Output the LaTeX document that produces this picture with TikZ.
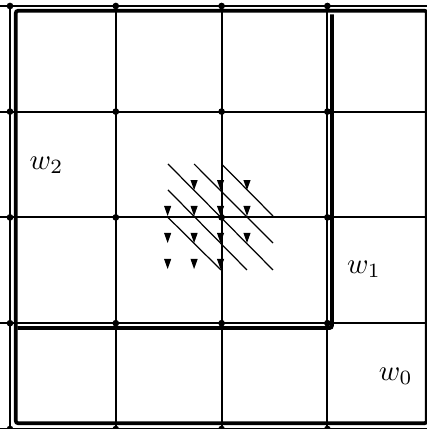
\documentclass[tikz,border=0pt]{standalone}
\usetikzlibrary{arrows.meta}

\tikzset{
    gridline/.style={line width=0.57pt},
    contour/.style={line width=1pt, rounded corners=0.6pt},
    hatch/.style={line width=0.33pt},
    griddot/.style={circle, fill=black, inner sep=0pt, minimum size=1.8pt},
    marker/.style={fill=black},
    weight/.style={inner sep=0pt, scale=0.78}
}

\begin{document}
\begin{tikzpicture}

    \useasboundingbox (-0.0945,0) rectangle (3.941,4.055);

    % Grid lines
    \foreach \y in {0, 1, 2, 3, 3.998}
        \draw[gridline] (-0.0945, \y) -- (3.941, \y);
    \foreach \x in {0, 1, 2, 3}
        \draw[gridline] (\x, 0) -- (\x, 3.998);

    % Dots on the grid
    \foreach \x in {0, 1, 2, 3}
        \foreach \y in {0, 1, 2, 3, 3.998}
            \node[griddot] (g\x-\y) at (\x, \y) {};

    % Contours
    \draw[contour] (0.055, 3.953) rectangle (3.94, 0.055);
    \draw[contour] (3.043, 3.92) -- (3.043, 0.955) -- (0.07, 0.955);

    % Hatching
    \draw[hatch] (1.493, 2.505) -- (2.486, 1.503);
    \draw[hatch] (1.74, 2.505) -- (2.486, 1.758);
    \draw[hatch] (2.0, 2.505) -- (2.486, 2.013);
    \draw[hatch] (1.493, 2.26) -- (2.24, 1.503);
    \draw[hatch] (1.493, 2.0) -- (1.994, 1.503);

    % Markers
    \foreach \x/\y in {1.74/2.353, 1.99/2.353, 2.24/2.353,
                       1.49/2.108, 1.74/2.108, 1.99/2.108, 2.24/2.108,
                       1.49/1.853, 1.74/1.853, 1.99/1.853, 2.24/1.853,
                       1.49/1.607, 1.74/1.607, 1.99/1.607}
        \fill[marker] (\x-0.034, \y) -- (\x+0.034, \y) -- (\x, \y-0.095) -- cycle;

    % Labels
    \node[weight] (w2) at (0.345, 2.49) {$w_2$};
    \node[weight] (w1) at (3.345, 1.51) {$w_1$};
    \node[weight] (w0) at (3.645, 0.5) {$w_0$};

\end{tikzpicture}
\end{document}
